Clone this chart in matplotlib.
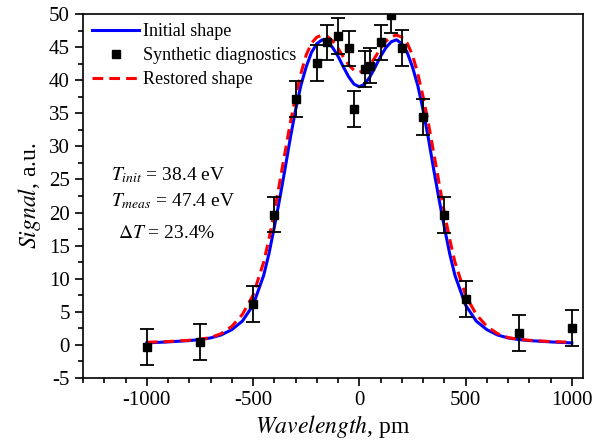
import matplotlib
matplotlib.use('Agg')
import matplotlib.pyplot as plt
from matplotlib.ticker import MultipleLocator

plt.rcParams['font.family'] = ['Liberation Serif', 'DejaVu Serif']
plt.rcParams['mathtext.fontset'] = 'stix'
plt.rcParams['axes.unicode_minus'] = False

# synthetic diagnostics (points with error bars)
wl_pts = [-1000, -750, -500, -400, -300, -200, -150, -100, -50, -25, 25, 50,
          100, 150, 200, 300, 400, 500, 750, 1000]
sig_pts = [-0.3, 0.4, 6.2, 19.7, 37.1, 42.6, 45.7, 46.7, 44.8, 35.6, 41.7, 42.2,
           45.7, 49.8, 44.9, 34.4, 19.6, 6.9, 1.8, 2.6]
sig_err = [2.7] * len(wl_pts)

# initial shape (blue)
wl_init = [-1000, -900, -800, -750, -700, -650, -600, -550, -500, -450, -425, -400,
           -375, -350, -325, -300, -275, -250, -225, -200, -175, -150, -125, -100,
           -75, -50, -25, 0, 25, 50, 75, 100, 125, 150, 175, 200, 225, 250, 275,
           300, 325, 350, 375, 400, 425, 450, 500, 550, 600, 650, 700, 750, 800, 900, 1000]
sig_init = [0.3, 0.45, 0.65, 0.8, 1.05, 1.5, 2.3, 3.6, 6.0, 10.5, 13.8, 17.8,
            22.0, 26.5, 31.2, 35.5, 39.2, 42.0, 44.2, 45.5, 46.1, 45.8, 44.9, 43.6,
            42.0, 40.5, 39.4, 39.0, 39.4, 40.5, 42.0, 43.6, 44.9, 45.8, 46.1, 45.5, 44.2, 42.0, 39.2,
            35.5, 31.2, 26.5, 22.0, 17.8, 13.8, 10.5, 6.0, 3.6, 2.3, 1.5, 1.05, 0.8, 0.65, 0.45, 0.3]

# restored shape (red dashed)
wl_rest = [-1000, -900, -800, -750, -700, -650, -600, -550, -500, -450, -425, -400,
           -375, -350, -325, -300, -275, -250, -225, -200, -175, -150, -125, -100,
           -75, -50, -25, 0, 25, 50, 75, 100, 125, 150, 175, 200, 225, 250, 275,
           300, 325, 350, 375, 400, 425, 450, 500, 550, 600, 650, 700, 750, 800, 900, 1000]
sig_rest = [0.4, 0.5, 0.7, 0.85, 1.1, 1.7, 2.8, 4.6, 7.5, 12.5, 16.0, 20.0,
            24.5, 29.0, 33.5, 37.5, 41.0, 43.8, 45.6, 46.5, 46.8, 46.6, 45.9, 44.8,
            43.5, 42.3, 41.5, 41.2, 41.5, 42.3, 43.5, 44.8, 45.9, 46.6, 46.8, 46.5, 45.6, 43.8, 41.0,
            37.5, 33.5, 29.0, 24.5, 20.0, 16.0, 12.5, 7.5, 4.6, 2.8, 1.7, 1.1, 0.85, 0.7, 0.5, 0.4]

fig = plt.figure(figsize=(5.95, 4.48), dpi=100)
ax = fig.add_axes([0.1395, 0.1563, 0.8395, 0.8125])

ax.plot(wl_init, sig_init, color='#0000ff', lw=2.2, label='Initial shape')
ax.errorbar(wl_pts, sig_pts, yerr=sig_err, fmt='none', ecolor='black',
            elinewidth=1.3, capsize=5, capthick=1.3, zorder=3)
ax.plot(wl_pts, sig_pts, 's', color='black', ms=6, zorder=4, label='Synthetic diagnostics')
ax.plot(wl_rest, sig_rest, color='#ff0000', lw=2.2, ls=(0, (3.5, 2)), label='Restored shape', zorder=2.5)

ax.set_xlim(-1300, 1050)
ax.set_ylim(-5, 50)
ax.xaxis.set_major_locator(MultipleLocator(500))
ax.xaxis.set_minor_locator(MultipleLocator(100))
ax.yaxis.set_major_locator(MultipleLocator(5))
ax.yaxis.set_minor_locator(MultipleLocator(2.5))
ax.tick_params(which='both', direction='out', top=False, right=False, labelsize=15, width=1.2)
ax.tick_params(which='major', length=6)
ax.tick_params(which='minor', length=3.5)
for s in ax.spines.values():
    s.set_linewidth(1.2)

ax.set_xlabel(r'$Wavelength$, pm', fontsize=17, labelpad=2)
ax.set_ylabel(r'$Signal$, a.u.', fontsize=17, labelpad=4)

ax.text(-1166, 24.9, r'$T_{init}$ = 38.4 eV', fontsize=14)
ax.text(-1166, 20.9, r'$T_{meas}$ = 47.4 eV', fontsize=14)
ax.text(-1135, 16.1, r'$\Delta T$ = 23.4%', fontsize=14)

ax.legend(loc='upper left', frameon=False, fontsize=13, handlelength=2.6,
          handletextpad=0.2, labelspacing=0.4, borderaxespad=0.3, borderpad=0.2)

fig.savefig('out.png', dpi=100)
